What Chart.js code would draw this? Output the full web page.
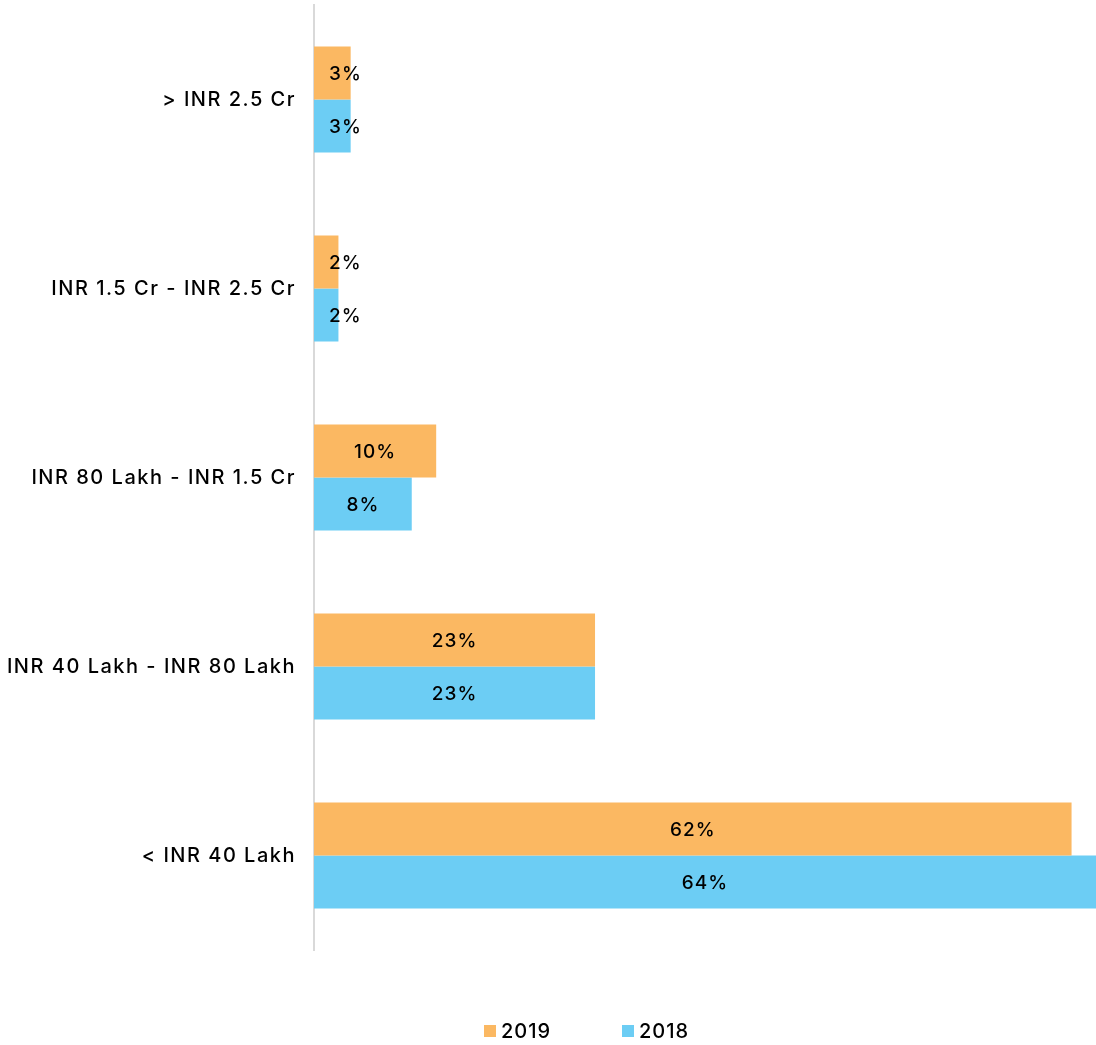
<!DOCTYPE html>
<html>
<head>
<meta charset="utf-8">
<script src="https://cdn.jsdelivr.net/npm/chart.js@4/dist/chart.umd.min.js"></script>
<style>
  html, body { margin: 0; padding: 0; background: #ffffff; }
  #wrap { width: 1096px; height: 1045px; position: relative; }
</style>
</head>
<body>
<div id="wrap"><canvas id="c"></canvas></div>
<script>
// Property value brackets and share of units per year (%)
const categories = [
  '> INR 2.5 Cr',
  'INR 1.5 Cr - INR 2.5 Cr',
  'INR 80 Lakh - INR 1.5 Cr',
  'INR 40 Lakh - INR 80 Lakh',
  '< INR 40 Lakh'
];
const values2019 = [3, 2, 10, 23, 62];
const values2018 = [3, 2, 8, 23, 64];
const seriesNames = ['2019', '2018'];

const FONT = 'Inter, "DejaVu Sans", sans-serif';

// Slightly tracked-out lettering for the axis labels
const tracking = {
  id: 'tracking',
  beforeDraw(chart) { chart.ctx.letterSpacing = '1.5px'; },
  beforeDatasetsDraw(chart) { chart.ctx.letterSpacing = '0px'; }
};

// Percentage labels inside each bar
const barLabels = {
  id: 'barLabels',
  afterDatasetsDraw(chart) {
    const ctx = chart.ctx;
    ctx.save();
    ctx.letterSpacing = '1px';
    ctx.font = '500 19px ' + FONT;
    ctx.fillStyle = '#000000';
    ctx.textBaseline = 'middle';
    ctx.textAlign = 'center';
    chart.data.datasets.forEach((ds, di) => {
      const meta = chart.getDatasetMeta(di);
      meta.data.forEach((bar, i) => {
        const text = ds.data[i] + '%';
        const w = ctx.measureText(text).width;
        const start = bar.base;
        const center = (bar.x + bar.base) / 2;
        const x = Math.max(center, start + 15 + w / 2);
        ctx.fillText(text, x, bar.y + 1);
      });
    });
    ctx.restore();
  }
};

// Legend row under the plot
const bottomLegend = {
  id: 'bottomLegend',
  afterDraw(chart) {
    const ctx = chart.ctx;
    ctx.save();
    ctx.letterSpacing = '1px';
    ctx.font = '500 20px ' + FONT;
    ctx.textBaseline = 'middle';
    ctx.textAlign = 'left';
    let x = 484;
    const y = 1031;
    chart.data.datasets.forEach((ds) => {
      ctx.fillStyle = ds.backgroundColor;
      ctx.fillRect(x, y - 6, 12, 12);
      x += 17;
      ctx.fillStyle = '#000000';
      ctx.fillText(ds.label, x, y + 1);
      x += 121;
    });
    ctx.restore();
  }
};

new Chart(document.getElementById('c'), {
  type: 'bar',
  data: {
    labels: categories,
    datasets: [
      { label: seriesNames[0], data: values2019, backgroundColor: '#FBB862' },
      { label: seriesNames[1], data: values2018, backgroundColor: '#6CCDF4' }
    ]
  },
  options: {
    indexAxis: 'y',
    responsive: true,
    maintainAspectRatio: false,
    animation: false,
    devicePixelRatio: 1,
    layout: { autoPadding: false, padding: { top: 5, right: 0, bottom: 95, left: 0 } },
    datasets: { bar: { categoryPercentage: 0.562, barPercentage: 1.0, borderWidth: 0 } },
    plugins: {
      legend: { display: false },
      tooltip: { enabled: false }
    },
    scales: {
      x: {
        display: false,
        min: 0,
        max: 64
      },
      y: {
        grid: { display: false, drawTicks: false },
        border: { display: true, color: '#D9D9D9', width: 2 },
        ticks: {
          color: '#000000',
          padding: 18,
          font: { family: FONT, size: 20, weight: '500' }
        },
        afterFit(scale) {
          scale.width = 314;
          scale.paddingTop = 0;
          scale.paddingBottom = 0;
        }
      }
    }
  },
  plugins: [tracking, barLabels, bottomLegend]
});
</script>
</body>
</html>
